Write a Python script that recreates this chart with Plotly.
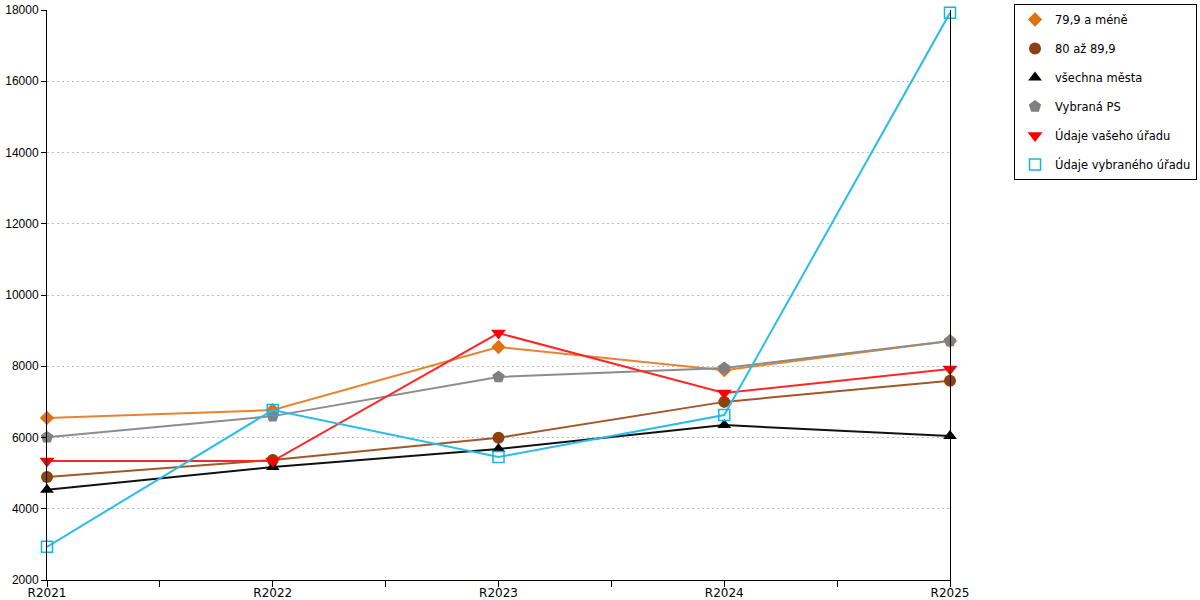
import plotly.graph_objects as go

# Years on the x axis
categories = ["R2021", "R2022", "R2023", "R2024", "R2025"]

# Series values
s_low = [6550, 6770, 8540, 7890, 8710]        # 79,9 a méně
s_mid = [4890, 5370, 5990, 7000, 7590]        # 80 až 89,9
s_all = [4530, 5170, 5680, 6350, 6040]        # všechna města
s_ps = [6010, 6600, 7700, 7950, 8710]         # Vybraná PS
s_yours = [5340, 5340, 8930, 7250, 7920]      # Údaje vašeho úřadu
s_selected = [2930, 6770, 5450, 6630, 17920]  # Údaje vybraného úřadu

y_ticks = [2000, 4000, 6000, 8000, 10000, 12000, 14000, 16000, 18000]

series = [
    ("79,9 a méně", s_low, "#E8842F", "#E07014", "diamond", 11),
    ("80 až 89,9", s_mid, "#A0582A", "#8B4210", "circle", 12),
    ("všechna města", s_all, "#111111", "#000000", "triangle-up", 12),
    ("Vybraná PS", s_ps, "#8C8C8C", "#808080", "pentagon", 13),
    ("Údaje vašeho úřadu", s_yours, "#FF2626", "#FF0000", "triangle-down", 13),
    ("Údaje vybraného úřadu", s_selected, "#29BDEB", "#14B4E8", "square-open", 11),
]

x = list(range(len(categories)))

fig = go.Figure()
for name, vals, lcol, mcol, sym, size in series:
    mk = dict(symbol=sym, size=size, color=mcol,
              line=dict(width=1.5 if sym == "square-open" else 0, color=mcol))
    fig.add_trace(go.Scatter(
        x=x, y=vals, mode="lines+markers", name=name,
        legendgroup=name, showlegend=False,
        line=dict(color=lcol, width=2),
        marker=mk, cliponaxis=False,
    ))
    # marker-only legend entry
    fig.add_trace(go.Scatter(
        x=[None], y=[None], mode="markers", name=name, legendgroup=name,
        marker=mk,
    ))

fig.update_layout(
    width=1200, height=600,
    margin=dict(l=47, r=250, t=10, b=20, autoexpand=False),
    paper_bgcolor="white", plot_bgcolor="white",
    font=dict(family="DejaVu Sans", size=12, color="#000000"),
    legend=dict(
        x=1.0709, y=1.0105, xanchor="left", yanchor="top",
        bordercolor="#000000", borderwidth=1,
        tracegroupgap=10, itemwidth=30,
        font=dict(family="DejaVu Sans", size=11.5),
    ),
)

fig.update_xaxes(
    range=[0, len(categories) - 1],
    tickvals=x, ticktext=categories,
    showgrid=False, zeroline=False,
    showline=True, linecolor="#000000", linewidth=1,
    ticks="outside", ticklen=6, tickcolor="#000000",
    minor=dict(tickvals=[i + 0.5 for i in x[:-1]], ticks="outside",
               ticklen=6, tickcolor="#000000", showgrid=False),
    tickfont=dict(family="DejaVu Sans", size=12),
    ticklabelstandoff=-4,
    automargin=False,
)

fig.update_yaxes(
    range=[2000, 18000],
    tickvals=y_ticks, ticktext=[str(v) for v in y_ticks],
    showgrid=True, gridcolor="#BEBEBE", griddash="2px,3px", gridwidth=1,
    zeroline=False,
    showline=True, linecolor="#000000", linewidth=1, mirror=True,
    ticks="outside", ticklen=5, tickcolor="#000000",
    tickfont=dict(family="Liberation Sans", size=12),
    automargin=False,
)

# drop the browser's default 8px body margin so the 1200x600 figure fills the window
fig.write_html("out.html", config={"displayModeBar": False},
               post_script="document.body.style.margin = '0';")
